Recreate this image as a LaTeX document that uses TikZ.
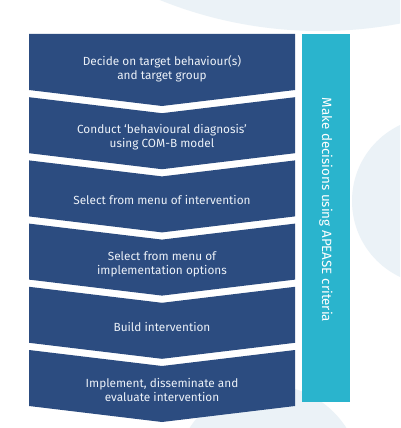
\documentclass[tikz,border=0pt]{standalone}
\usepackage{fontspec}
\setmainfont{Fira Sans}
\definecolor{boxblue}{RGB}{44,76,128}
\definecolor{barteal}{RGB}{42,180,205}
\definecolor{pale}{RGB}{235,242,247}
\definecolor{boxtext}{RGB}{236,241,248}
\begin{document}
\begin{tikzpicture}[x=1pt,y=-1pt,
  steptext/.style={text=boxtext,align=center,font=\fontsize{11.8}{14.3}\selectfont,inner sep=0pt},
  bartext/.style={text=white,font=\fontsize{13.4}{15}\selectfont,inner sep=0pt,rotate=-90}]
\useasboundingbox (0,0) rectangle (400,428);
\fill[white] (0,0) rectangle (400,428);
\begin{scope}
  \clip (0,0) rectangle (400,428);
  \fill[pale] (320,-397) circle[radius=428];
  \fill[pale] (436,201) circle[radius=84];
  \fill[pale] (268,478) circle[radius=93];
\end{scope}
% chevron boxes
\fill[boxblue] (29,34) -- (295,34) -- (295,90) -- (162,106) -- (29,90) -- cycle;
\foreach \i in {1,...,5}{
  \pgfmathsetmacro\t{34+63.2*\i}
  \pgfmathsetmacro\b{\t+56}
  \fill[boxblue] (29,\t) -- (162,\t+16) -- (295,\t) -- (295,\b) -- (162,\b+16) -- (29,\b) -- cycle;
}
\node[steptext] (s1) at (162,68.5) {Decide on target behaviour(s)\\and target group};
\node[steptext] (s2) at (162,137.5) {Conduct ‘behavioural diagnosis’\\using COM-B model};
\node[steptext] (s3) at (162,200) {Select from menu of intervention};
\node[steptext] (s4) at (162,264) {Select from menu of\\implementation options};
\node[steptext] (s5) at (162,327) {Build intervention};
\node[steptext] (s6) at (162,390) {Implement, disseminate and\\evaluate intervention};
% side bar
\fill[barteal] (302,34) rectangle (350,402);
\node[bartext] (bar) at (326,210) {Make decisions using APEASE criteria};
\end{tikzpicture}
\end{document}
